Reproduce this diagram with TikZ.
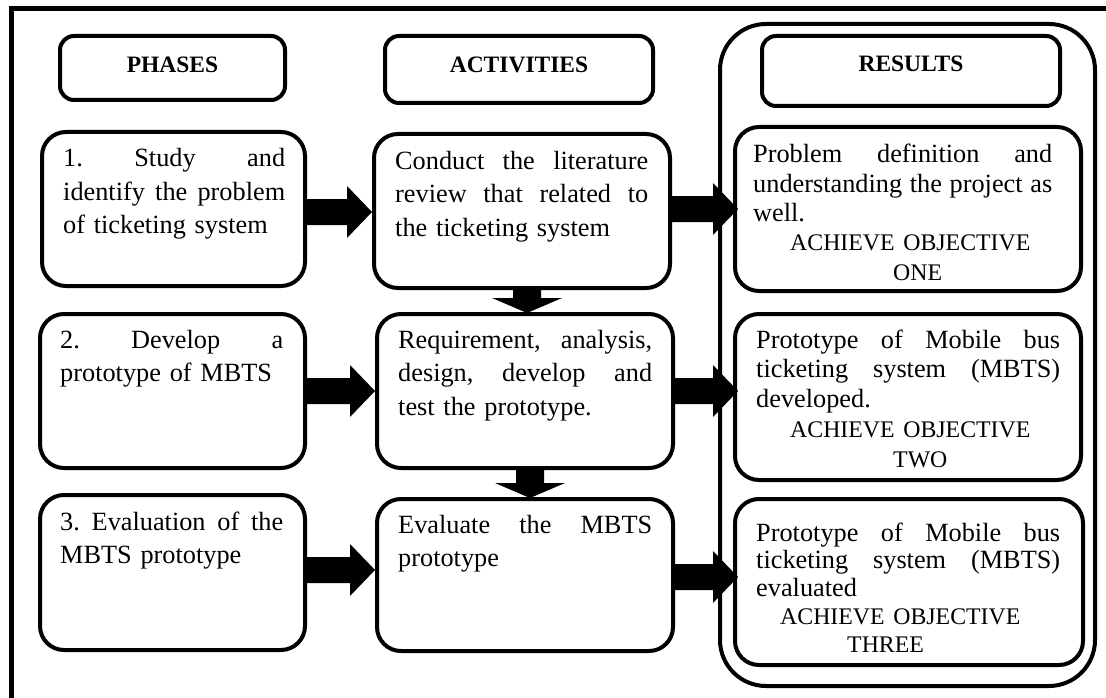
\documentclass[tikz,border=0pt]{standalone}
\usepackage{fontspec}
\setmainfont{Liberation Serif}
\usetikzlibrary{calc}
\frenchspacing

% a justified line stretched to #1 pt
\newcommand\jl[2]{\leavevmode\hbox to #1pt{\spaceskip=0pt\xspaceskip=0pt #2}}
% a smaller capital line, set in from the left edge of the text block
\newcommand\objline[2]{\leavevmode\hbox{\hspace*{#1pt}\fontsize{23.8}{28}\selectfont #2}}

% block arrow from the east side of #1 to the west side of #2 on row #3; tip overshoot #4
\newcommand\harr[4]{%
  \path (#1.east |- 0,#3) coordinate (hs) (#2.west |- 0,#3) coordinate (ht);
  \fill ($(hs)+(-1,-13)$) -- ($(ht)+(#4-25,-13)$) -- ($(ht)+(#4-25,-26)$)
        -- ($(ht)+(#4,0)$) -- ($(ht)+(#4-25,26)$) -- ($(ht)+(#4-25,13)$)
        -- ($(hs)+(-1,13)$) -- cycle;}
% block arrow from the south side of #1 to the north side of #2 in column #3
\newcommand\varr[3]{%
  \path (#1.south -| #3,0) coordinate (vs) (#2.north -| #3,0) coordinate (vt);
  \fill ($(vs)+(-14,-1)$) -- ($(vt)+(-14,-14)$) -- ($(vt)+(-35,-14)$)
        -- ($(vt)+(0,1)$) -- ($(vt)+(35,-14)$) -- ($(vt)+(14,-14)$)
        -- ($(vs)+(14,-1)$) -- cycle;}

\begin{document}
\begin{tikzpicture}[x=1pt,y=-1pt,
  frameline/.style={line width=5pt},
  hdr/.style={draw,line width=4pt,rounded corners=14pt,inner sep=0pt},
  cbox/.style={draw,line width=4pt,rounded corners=24pt,inner sep=0pt},
  group/.style={draw,line width=4pt,rounded corners=46pt,inner sep=0pt},
  htxt/.style={inner sep=0pt,anchor=base,font=\bfseries\fontsize{23.5}{28}\selectfont},
  txt/.style={inner sep=0pt,anchor=base west,font=\fontsize{26.3}{33.5}\selectfont},
]
\useasboundingbox (0,0) rectangle (1106,698);

% page frame (top and left rules)
\draw[frameline] (1106,8.5) -- (11.5,8.5) -- (11.5,698);

% column headers
\node[hdr,minimum width=225pt,minimum height=64pt] (hph) at (172.5,68) {};
\node[hdr,minimum width=268pt,minimum height=67pt] (hac) at (519,69.5) {};
\node[group,minimum width=375pt,minimum height=662pt] (grp) at (907.5,355) {};
\node[hdr,minimum width=298pt,minimum height=70pt] (hre) at (911,71) {};
\node[htxt] (thph) at (172.5,72.5) {PHASES};
\node[htxt] (thac) at (519,72.5) {ACTIVITIES};
\node[htxt] (thre) at (911,72) {RESULTS};

% row 1
\node[cbox,minimum width=263pt,minimum height=154pt] (ph1) at (173.5,209) {};
\node[cbox,minimum width=296pt,minimum height=154pt] (ac1) at (522,211) {};
\node[cbox,minimum width=346pt,minimum height=164pt] (re1) at (908,209) {};
\node[txt,text width=222pt] (tph1) at (63,167)
  {\jl{222}{1. Study and}\\\jl{222}{identify the problem}\\of ticketing system};
\node[txt,text width=253pt] (tac1) at (395,169)
  {\jl{253}{Conduct the literature}\\\jl{253}{review that related to}\\the ticketing system};
\node[txt,text width=299pt,font=\fontsize{26.3}{29.3}\selectfont] (tre1) at (753,163)
  {\jl{299}{Problem definition and}\\\jl{299}{understanding the project as}\\well.\\
   \objline{37}{ACHIEVE OBJECTIVE}\\\objline{140}{ONE}};

% row 2
\node[cbox,minimum width=265pt,minimum height=154pt] (ph2) at (172.5,391) {};
\node[cbox,minimum width=296pt,minimum height=154pt] (ac2) at (525,391) {};
\node[cbox,minimum width=346pt,minimum height=166pt] (re2) at (908,397) {};
\node[txt,text width=223pt] (tph2) at (60,348)
  {\jl{223}{2. Develop a}\\prototype of MBTS};
\node[txt,text width=254pt] (tac2) at (398,348)
  {\jl{254}{Requirement, analysis,}\\\jl{254}{design, develop and}\\test the prototype.};
\node[txt,text width=304pt,font=\fontsize{26.3}{29.8}\selectfont] (tre2) at (756,348)
  {\jl{304}{Prototype of Mobile bus}\\\jl{304}{ticketing system (MBTS)}\\developed.\\
   \objline{34}{ACHIEVE OBJECTIVE}\\\objline{137}{TWO}};

% row 3
\node[cbox,minimum width=265pt,minimum height=155pt] (ph3) at (172.5,572.5) {};
\node[cbox,minimum width=296pt,minimum height=152pt] (ac3) at (525,575) {};
\node[cbox,minimum width=348pt,minimum height=166pt] (re3) at (909,582) {};
\node[txt,text width=223pt] (tph3) at (60,530)
  {\jl{223}{3. Evaluation of the}\\MBTS prototype};
\node[txt,text width=254pt] (tac3) at (398,533)
  {\jl{254}{Evaluate the MBTS}\\prototype};
\node[txt,text width=304pt,font=\fontsize{26.3}{27.8}\selectfont] (tre3) at (756,541)
  {\jl{304}{Prototype of Mobile bus}\\\jl{304}{ticketing system (MBTS)}\\evaluated\\
   \objline{24}{ACHIEVE OBJECTIVE}\\\objline{91}{THREE}};

% flow arrows
\harr{ph1}{ac1}{212}{0}
\harr{ac1}{re1}{209}{5}
\harr{ph2}{ac2}{391}{0}
\harr{ac2}{re2}{391}{5}
\harr{ph3}{ac3}{570}{0}
\harr{ac3}{re3}{577}{5}
\varr{ac1}{ac2}{527}
\varr{ac2}{ac3}{530}
\end{tikzpicture}
\end{document}
